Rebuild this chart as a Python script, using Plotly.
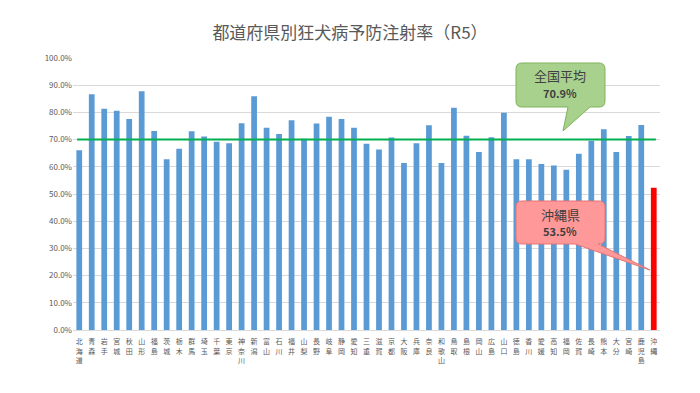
import plotly.graph_objects as go

prefectures = ["北海道", "青森", "岩手", "宮城", "秋田", "山形", "福島", "茨城", "栃木", "群馬",
               "埼玉", "千葉", "東京", "神奈川", "新潟", "富山", "石川", "福井", "山梨", "長野",
               "岐阜", "静岡", "愛知", "三重", "滋賀", "京都", "大阪", "兵庫", "奈良", "和歌山",
               "鳥取", "島根", "岡山", "広島", "山口", "徳島", "香川", "愛媛", "高知", "福岡",
               "佐賀", "長崎", "熊本", "大分", "宮崎", "鹿児島", "沖縄"]
rates = [0.661, 0.867, 0.813, 0.806, 0.776, 0.878, 0.732, 0.628, 0.666, 0.731,
         0.711, 0.692, 0.687, 0.760, 0.859, 0.744, 0.721, 0.771, 0.703, 0.759,
         0.784, 0.776, 0.744, 0.685, 0.664, 0.708, 0.614, 0.687, 0.753, 0.614,
         0.817, 0.714, 0.654, 0.709, 0.799, 0.628, 0.628, 0.610, 0.605, 0.589,
         0.648, 0.696, 0.738, 0.654, 0.713, 0.754, 0.523]
highlight = "沖縄"
avg_line_value = 0.70
avg_title, avg_text = "全国平均", "70.9%"
oki_title, oki_text = "沖縄県", "53.5%"
title_text = "都道府県別狂犬病予防注射率（R5）"

FONT = "Noto Sans CJK JP"
GRAY = "#595959"

OFF = 8  # page body margin
FW, FH = 700 - OFF, 393 - OFF
# plot area in page pixels
L, R, T, B = 73, 660, 58, 330
W, H = R - L, B - T


def P(px, py):
    return (px - L) / W, (B - py) / H


def callout_path(x0, y0, x1, y1, r, b0, b1, tip):
    pts = []
    def add(cmd, *xy):
        s = cmd
        for i in range(0, len(xy), 2):
            a, b = P(xy[i], xy[i + 1])
            s += f" {a:.5f},{b:.5f}"
        pts.append(s)
    add("M", x0 + r, y0)
    add("L", x1 - r, y0)
    add("Q", x1, y0, x1, y0 + r)
    add("L", x1, y1 - r)
    add("Q", x1, y1, x1 - r, y1)
    add("L", b1, y1)
    add("L", tip[0], tip[1])
    add("L", b0, y1)
    add("L", x0 + r, y1)
    add("Q", x0, y1, x0, y1 - r)
    add("L", x0, y0 + r)
    add("Q", x0, y0, x0 + r, y0)
    return " ".join(pts) + " Z"


colors = ["#ff0000" if p == highlight else "#5b9bd5" for p in prefectures]
ticktext = ["<br>".join(list(p)) for p in prefectures]

fig = go.Figure()
fig.add_trace(go.Bar(x=prefectures, y=rates, marker=dict(color=colors, line=dict(width=0)),
                     hoverinfo="x+y"))
fig.add_shape(type="line", xref="paper", yref="y", x0=0.007, x1=0.993,
              y0=avg_line_value, y1=avg_line_value, line=dict(color="#00b050", width=2))

fig.add_shape(type="path", xref="paper", yref="paper",
              path=callout_path(516, 63, 605, 107, 6, 568, 590, (563, 131)),
              fillcolor="#a9d18e", line=dict(color="#7fb35a", width=1))
fig.add_shape(type="path", xref="paper", yref="paper",
              path=callout_path(516, 201, 605, 244, 6, 575, 598, (650, 270)),
              fillcolor="#ff9999", line=dict(color="#e57373", width=1))

for (px, py, txt, size, bold) in [(560, 75, avg_title, 13, False), (560, 93, avg_text, 11, True),
                                  (560, 214, oki_title, 13, False), (560, 231, oki_text, 11, True)]:
    ax, ay = P(px, py)
    fig.add_annotation(x=ax, y=ay, xref="paper", yref="paper", showarrow=False,
                       text=f"<b>{txt}</b>" if bold else txt,
                       font=dict(family=FONT, size=size, color="#404040"),
                       xanchor="center", yanchor="middle")

fig.update_layout(
    width=FW, height=FH,
    margin=dict(l=L - OFF, r=700 - R, t=T - OFF, b=393 - B),
    paper_bgcolor="white", plot_bgcolor="white",
    showlegend=False, bargap=0.54,
    font=dict(family=FONT, color=GRAY),
    title=dict(text=title_text, x=(350 - OFF) / FW, xanchor="center", xref="container",
               y=1 - (33 - OFF) / FH, yanchor="middle", yref="container",
               font=dict(family=FONT, size=17, color=GRAY)),
    xaxis=dict(tickmode="array", tickvals=prefectures, ticktext=ticktext, tickangle=0,
               tickfont=dict(family=FONT, size=7, color=GRAY), showgrid=False,
               showline=True, linecolor="#d9d9d9", ticks="", range=[-0.5, 46.5],
               ticklabelstandoff=5),
    yaxis=dict(range=[0, 1.0], dtick=0.1, tickformat=".1%", showgrid=True, gridcolor="#d9d9d9",
               gridwidth=1, zeroline=False, tickfont=dict(family=FONT, size=8, color=GRAY),
               ticks="", showline=False),
)
fig.write_html("out.html")
